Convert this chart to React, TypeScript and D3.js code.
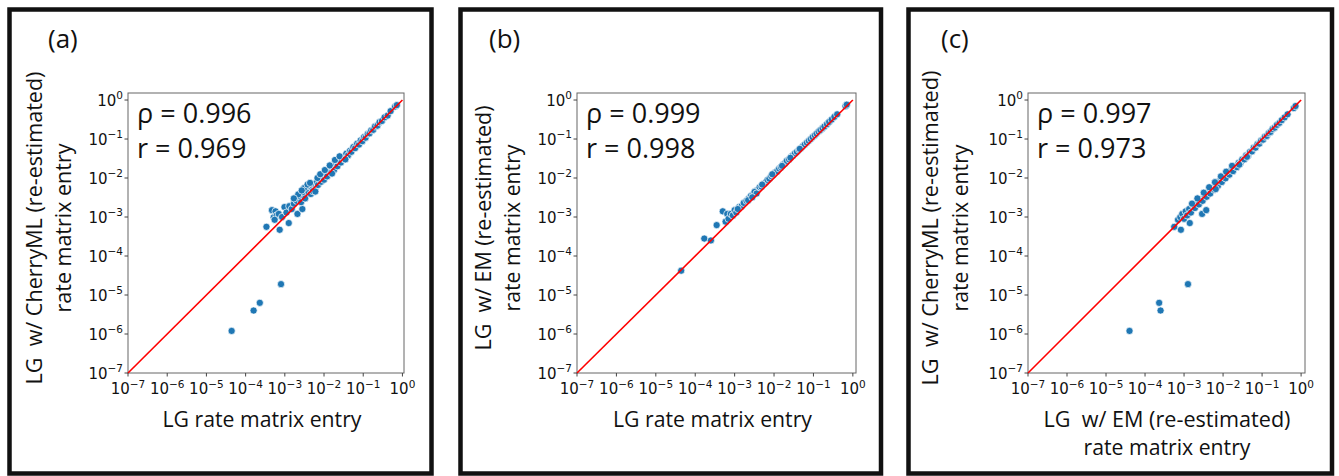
import React from "react";
import * as d3 from "d3";

// ---------- data ----------
const tickExponents = [-7, -6, -5, -4, -3, -2, -1, 0];
const panelLetters = ["(a)", "(b)", "(c)"];
const rhoValues = ["0.996", "0.999", "0.997"];
const rValues = ["0.969", "0.998", "0.973"];
const yLabels = [
  ["LG  w/ CherryML (re-estimated)", "rate matrix entry"],
  ["LG  w/ EM (re-estimated)", "rate matrix entry"],
  ["LG  w/ CherryML (re-estimated)", "rate matrix entry"],
];
const xLabels = [
  ["LG rate matrix entry"],
  ["LG rate matrix entry"],
  ["LG  w/ EM (re-estimated)", "rate matrix entry"],
];

// [x, y] pairs
const pointsA: [number, number][] = [
  [4.4e-5, 1.2e-6], [1.6e-4, 4.0e-6], [2.3e-4, 6.3e-6], [8.0e-4, 1.9e-5],
  [3.4e-4, 5.6e-4], [7.4e-4, 4.7e-4], [1.26e-3, 7.0e-4],
  [4.7e-4, 1.5e-3], [5.2e-4, 9.8e-4], [5.8e-4, 1.4e-3], [6.2e-4, 1.1e-3], [5.5e-4, 8.5e-4],
  [7.0e-4, 1.2e-3], [9.8e-4, 1.8e-3], [8.5e-4, 1.0e-3], [1.1e-3, 1.3e-3], [1.3e-3, 1.9e-3],
  [1.5e-3, 1.6e-3], [1.7e-3, 2.2e-3], [2.1e-3, 1.2e-3], [2.8e-3, 1.6e-3],
  [2.0e-3, 2.6e-3], [2.4e-3, 3.4e-3], [2.6e-3, 2.4e-3], [3.0e-3, 4.2e-3], [3.3e-3, 3.0e-3],
  [3.6e-3, 5.0e-3], [4.0e-3, 4.4e-3], [4.2e-3, 6.2e-3], [4.6e-3, 3.9e-3], [5.0e-3, 5.6e-3],
  [5.5e-3, 7.0e-3], [6.0e-3, 5.2e-3], [6.5e-3, 8.0e-3], [7.0e-3, 6.6e-3], [7.8e-3, 9.5e-3],
  [8.5e-3, 8.0e-3], [9.2e-3, 1.15e-2], [1.0e-2, 9.0e-3], [1.1e-2, 1.3e-2], [1.2e-2, 1.1e-2],
  [1.35e-2, 1.6e-2], [1.5e-2, 1.4e-2], [1.65e-2, 1.9e-2], [1.8e-2, 1.6e-2], [2.0e-2, 2.4e-2],
  [2.2e-2, 2.0e-2], [2.4e-2, 2.8e-2], [2.7e-2, 2.5e-2], [3.0e-2, 3.4e-2], [3.3e-2, 3.0e-2],
  [3.7e-2, 4.2e-2], [4.1e-2, 3.8e-2], [4.6e-2, 5.0e-2], [5.0e-2, 4.7e-2], [5.6e-2, 6.2e-2],
  [6.2e-2, 5.8e-2], [7.0e-2, 7.6e-2], [7.8e-2, 7.2e-2], [8.6e-2, 9.2e-2], [9.5e-2, 8.8e-2],
  [1.05e-1, 1.12e-1], [1.15e-1, 1.08e-1], [1.3e-1, 1.35e-1], [1.45e-1, 1.4e-1], [1.6e-1, 1.68e-1],
  [1.8e-1, 1.72e-1], [2.0e-1, 2.1e-1], [2.3e-1, 2.2e-1], [2.6e-1, 2.7e-1], [3.0e-1, 2.9e-1],
  [3.5e-1, 3.6e-1], [4.2e-1, 4.0e-1], [5.0e-1, 5.2e-1], [6.5e-1, 6.8e-1], [7.2e-1, 7.4e-1],
  [2.2e-3, 3.8e-3], [3.1e-3, 5.5e-3], [3.8e-3, 6.8e-3], [4.4e-3, 7.5e-3], [5.2e-3, 4.6e-3],
  [6.8e-3, 1.0e-2], [8.0e-3, 1.25e-2], [1.05e-2, 1.6e-2], [1.4e-2, 2.1e-2], [1.9e-2, 2.9e-2],
  [2.5e-2, 3.6e-2], [1.7e-3, 3.0e-3], [2.7e-3, 4.8e-3], [6.0e-3, 4.5e-3], [1.6e-2, 1.3e-2],
  [3.5e-2, 3.0e-2],
];

const pointsB: [number, number][] = [
  [4.4e-5, 4.2e-5], [1.7e-4, 2.8e-4], [2.5e-4, 2.5e-4], [3.5e-4, 6.2e-4], [5.0e-4, 1.4e-3],
  [5.9e-4, 7.6e-4], [6.5e-4, 1.2e-3],
  [7.0e-4, 9.0e-4], [8.0e-4, 1.2e-3], [9.0e-4, 1.1e-3], [1.0e-3, 1.5e-3], [1.1e-3, 1.3e-3],
  [1.3e-3, 1.8e-3], [1.5e-3, 1.9e-3], [1.7e-3, 2.3e-3], [2.0e-3, 2.6e-3], [2.3e-3, 3.0e-3],
  [2.6e-3, 3.5e-3], [3.0e-3, 3.9e-3], [3.4e-3, 4.6e-3], [3.8e-3, 4.9e-3], [4.3e-3, 5.8e-3],
  [4.8e-3, 6.0e-3], [5.4e-3, 7.2e-3], [6.0e-3, 7.6e-3], [6.8e-3, 8.9e-3], [7.6e-3, 9.6e-3],
  [8.5e-3, 1.12e-2], [9.5e-3, 1.2e-2], [1.05e-2, 1.38e-2], [1.2e-2, 1.5e-2], [1.35e-2, 1.75e-2],
  [1.5e-2, 1.9e-2], [1.7e-2, 2.2e-2], [1.9e-2, 2.4e-2], [2.1e-2, 2.75e-2], [2.4e-2, 3.0e-2],
  [2.7e-2, 3.5e-2], [3.0e-2, 3.8e-2], [3.4e-2, 4.3e-2], [3.8e-2, 4.7e-2], [4.3e-2, 5.3e-2],
  [4.8e-2, 5.8e-2], [5.4e-2, 6.6e-2], [6.0e-2, 7.2e-2], [6.8e-2, 8.1e-2], [7.6e-2, 9.0e-2],
  [8.5e-2, 1.0e-1], [9.5e-2, 1.12e-1], [1.08e-1, 1.25e-1], [1.2e-1, 1.38e-1], [1.35e-1, 1.55e-1],
  [1.5e-1, 1.7e-1], [1.7e-1, 1.9e-1], [1.9e-1, 2.1e-1], [2.2e-1, 2.4e-1], [2.5e-1, 2.75e-1],
  [2.9e-1, 3.15e-1], [3.4e-1, 3.7e-1], [4.0e-1, 4.3e-1], [6.5e-1, 7.0e-1], [7.0e-1, 7.6e-1],
  [1.2e-3, 1.6e-3], [2.2e-3, 2.7e-3], [3.2e-3, 4.4e-3], [5.0e-3, 6.8e-3], [9.0e-3, 1.25e-2],
  [1.6e-2, 2.05e-2], [2.6e-2, 3.3e-2], [4.5e-2, 5.6e-2], [3.6e-3, 4.0e-3], [2.8e-3, 3.2e-3],
];

const pointsC: [number, number][] = [
  [4.0e-5, 1.2e-6], [2.3e-4, 6.3e-6], [2.5e-4, 4.0e-6], [1.26e-3, 1.9e-5],
  [8.3e-4, 4.7e-4], [1.4e-3, 7.0e-4], [2.9e-3, 1.2e-3], [3.7e-3, 1.5e-3], [5.6e-4, 5.6e-4],
  [7.0e-4, 8.5e-4], [8.0e-4, 1.0e-3], [9.0e-4, 1.2e-3], [1.0e-3, 9.0e-4], [1.1e-3, 1.4e-3],
  [1.2e-3, 1.1e-3], [1.35e-3, 1.6e-3], [1.5e-3, 1.3e-3], [1.7e-3, 2.0e-3], [1.9e-3, 1.7e-3],
  [2.1e-3, 2.4e-3], [2.4e-3, 2.1e-3], [2.7e-3, 2.9e-3], [3.0e-3, 2.6e-3], [3.4e-3, 3.6e-3],
  [3.8e-3, 3.3e-3], [4.2e-3, 4.5e-3], [4.7e-3, 4.0e-3], [5.3e-3, 5.6e-3], [5.9e-3, 5.0e-3],
  [6.6e-3, 6.8e-3], [7.4e-3, 6.3e-3], [8.3e-3, 8.5e-3], [9.3e-3, 7.9e-3], [1.04e-2, 1.05e-2],
  [1.16e-2, 9.8e-3], [1.3e-2, 1.3e-2], [1.45e-2, 1.22e-2], [1.62e-2, 1.6e-2], [1.8e-2, 1.5e-2],
  [2.0e-2, 2.0e-2], [2.25e-2, 1.9e-2], [2.5e-2, 2.45e-2], [2.8e-2, 2.4e-2], [3.1e-2, 3.0e-2],
  [3.5e-2, 3.0e-2], [3.9e-2, 3.8e-2], [4.4e-2, 3.8e-2], [4.9e-2, 4.7e-2], [5.5e-2, 4.8e-2],
  [6.1e-2, 6.0e-2], [6.8e-2, 6.0e-2], [7.6e-2, 7.4e-2], [8.5e-2, 7.6e-2], [9.5e-2, 9.2e-2],
  [1.06e-1, 9.6e-2], [1.18e-1, 1.15e-1], [1.32e-1, 1.2e-1], [1.48e-1, 1.42e-1], [1.65e-1, 1.52e-1],
  [1.85e-1, 1.8e-1], [2.1e-1, 1.95e-1], [2.4e-1, 2.3e-1], [2.8e-1, 2.6e-1], [3.2e-1, 3.05e-1],
  [3.8e-1, 3.6e-1], [4.5e-1, 4.3e-1], [6.5e-1, 6.2e-1], [7.2e-1, 7.0e-1],
  [1.6e-3, 2.2e-3], [2.2e-3, 3.0e-3], [3.2e-3, 4.2e-3], [4.4e-3, 5.8e-3], [6.2e-3, 7.8e-3],
  [8.8e-3, 1.1e-2], [1.2e-2, 1.45e-2], [1.7e-2, 2.05e-2], [2.6e-2, 2.2e-2], [4.1e-2, 3.5e-2],
  [6.5e-3, 5.2e-3],
];
const allPoints = [pointsA, pointsB, pointsC];

// ---------- layout ----------
const W = 1339;
const H = 476;
const layouts = [
  { fl: 9.5, fr: 431.5, l: 128, r: 404, xMaxExp: 0.04, letterX: 48, yl1: 42, yl2: 71 },
  { fl: 460.5, fr: 881, l: 577, r: 856, xMaxExp: 0.08, letterX: 489, yl1: 491, yl2: 520 },
  { fl: 908.5, fr: 1332, l: 1028, r: 1305, xMaxExp: 0.1, letterX: 941, yl1: 938, yl2: 968 },
];
const yLabelWidths = [[313, 169], [245, 167], [315, 167]];
const xLabelWidths = [[199], [199], [247, 167]];
const TOP = 93;
const BOTTOM = 373;
const yMaxExp = 0.18;
const LABEL_FONT = "'Open Sans', 'Noto Sans', sans-serif";
const TICK_FONT = "'DejaVu Sans', sans-serif";

function TickLabel({ exp, ...rest }: any) {
  const sup = exp < 0 ? "\u2212" + Math.abs(exp) : String(exp);
  return (
    <text fontFamily={TICK_FONT} fontSize={15} fill="#111" {...rest}>
      10<tspan dy={-6.5} fontSize={10.5}>{sup}</tspan>
    </text>
  );
}

function Panel({ i }: { i: number }) {
  const L = layouts[i];
  const x = d3.scaleLog().domain([1e-7, Math.pow(10, L.xMaxExp)]).range([L.l, L.r]);
  const y = d3.scaleLog().domain([1e-7, Math.pow(10, yMaxExp)]).range([BOTTOM, TOP]);
  const pts = allPoints[i];
  const diag = d3.line<number>().x((v) => x(v)).y((v) => y(v));
  const cx = (L.l + L.r) / 2;
  const yMid = 228;
  return (
    <g>
      <rect x={L.fl} y={9.5} width={L.fr - L.fl} height={464} fill="white" stroke="#111" strokeWidth={4.5} />
      <text x={L.letterX} y={48} fontFamily={LABEL_FONT} fontSize={26} fill="#111">{panelLetters[i]}</text>
      {/* axes frame */}
      <rect x={L.l} y={TOP} width={L.r - L.l} height={BOTTOM - TOP} fill="white" stroke="#666" strokeWidth={1} />
      {/* points */}
      {pts.map((p, k) => (
        <circle key={k} cx={x(p[0])} cy={y(p[1])} r={3.6} fill="#1f77b4" stroke="white" strokeWidth={0.7} />
      ))}
      {/* identity line */}
      <path d={diag([1e-7, 1]) || ""} stroke="#ff0000" strokeWidth={1.6} fill="none" />
      {/* ticks */}
      {tickExponents.map((e) => {
        const v = Math.pow(10, e);
        return (
          <g key={"x" + e}>
            <line x1={x(v)} x2={x(v)} y1={BOTTOM} y2={BOTTOM + 3.5} stroke="#444" />
            <TickLabel exp={e} x={x(v)} y={394} textAnchor="middle" />
          </g>
        );
      })}
      {tickExponents.map((e) => {
        const v = Math.pow(10, e);
        return (
          <g key={"y" + e}>
            <line x1={L.l - 3.5} x2={L.l} y1={y(v)} y2={y(v)} stroke="#444" />
            <TickLabel exp={e} x={L.l - 5} y={y(v) + 5.5} textAnchor="end" />
          </g>
        );
      })}
      {/* stats */}
      <text x={L.l + 9} y={123} fontFamily={LABEL_FONT} fontSize={27} fill="#111">{"\u03c1 = " + rhoValues[i]}</text>
      <text x={L.l + 9} y={158} fontFamily={LABEL_FONT} fontSize={27} fill="#111">{"r = " + rValues[i]}</text>
      {/* y label */}
      {yLabels[i].map((t, k) => (
        <text
          key={"yl" + k}
          transform={`translate(${k === 0 ? L.yl1 : L.yl2},${yMid}) rotate(-90)`}
          textAnchor="middle"
          fontFamily={LABEL_FONT}
          fontSize={21}
          fill="#111"
          style={{ whiteSpace: "pre" }}
          textLength={yLabelWidths[i][k]}
          lengthAdjust="spacingAndGlyphs"
        >
          {t}
        </text>
      ))}
      {/* x label */}
      {xLabels[i].map((t, k) => (
        <text
          key={"xl" + k}
          x={i === 2 ? 1167 : cx - 4}
          y={427 + k * 28}
          textAnchor="middle"
          fontFamily={LABEL_FONT}
          fontSize={21}
          fill="#111"
          style={{ whiteSpace: "pre" }}
          textLength={xLabelWidths[i][k]}
          lengthAdjust="spacingAndGlyphs"
        >
          {t}
        </text>
      ))}
    </g>
  );
}

export default function App() {
  return (
    <div style={{ position: "absolute", left: 0, top: 0 }}>
      <svg width={W} height={H} style={{ display: "block", background: "white" }}>
        <rect width={W} height={H} fill="white" />
        {[0, 1, 2].map((i) => (
          <Panel key={i} i={i} />
        ))}
      </svg>
    </div>
  );
}
